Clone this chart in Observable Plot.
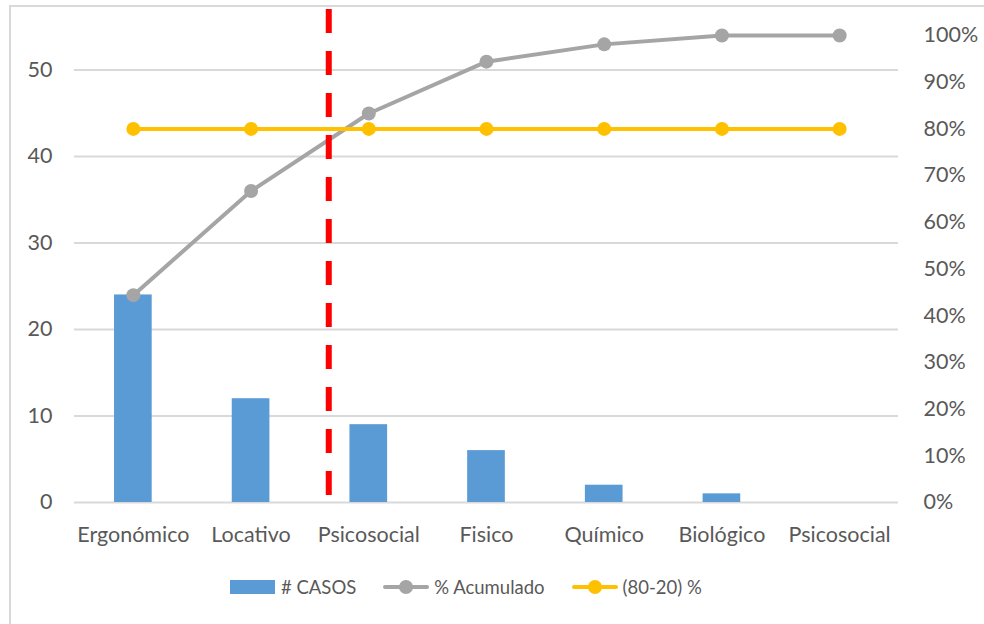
<!DOCTYPE html>
<html>
<head>
<meta charset="utf-8">
<script src="https://cdn.jsdelivr.net/npm/d3@7"></script>
<script src="https://cdn.jsdelivr.net/npm/@observablehq/plot@0.6"></script>
<style>
  html, body { margin: 0; padding: 0; background: #fff; }
  body { width: 984px; height: 624px; overflow: hidden; position: relative; font-family: Lato, "Open Sans", sans-serif; }
  #frame { position: absolute; left: 9px; top: 5px; width: 1100px; height: 700px; border-left: 2px solid #d9d9d9; border-top: 2px solid #d9d9d9; }
  #chart { position: absolute; left: 0; top: 0; }
  #legend { position: absolute; left: 230px; top: 576px; display: flex; align-items: center; font-size: 18.5px; color: #595959; white-space: nowrap; }
  .item { display: flex; align-items: center; margin-right: 27px; }
  .item svg { margin-right: 5px; }
</style>
</head>
<body>
<div id="frame"></div>
<div id="chart"></div>
<div id="legend"></div>
<script>
// Factores de riesgo (Pareto)
const categorias = ["Ergonómico", "Locativo", "Psicosocial", "Fisico", "Químico", "Biológico", "Psicosocial"];
const casos = [24, 12, 9, 6, 2, 1, 0];
const acumulado = [44.4, 66.7, 83.3, 94.4, 98.1, 100, 100];
const umbral = [80, 80, 80, 80, 80, 80, 80];
const ticksCasos = [0, 10, 20, 30, 40, 50];
const ticksPct = [0, 10, 20, 30, 40, 50, 60, 70, 80, 90, 100];
const totalCasos = 54;            // 100% on the right axis
const corte = [{x: 1.66, y1: 0.8, y2: 57.2}]; // dashed 80/20 cut

const azul = "#5B9BD5", gris = "#A5A5A5", amarillo = "#FFC000", rojo = "#FF0000";

const filas = categorias.map((c, i) => ({
  i, categoria: c, casos: casos[i],
  acum: acumulado[i] * totalCasos / 100,
  umbral: umbral[i] * totalCasos / 100
}));

const chart = Plot.plot({
  width: 984,
  height: 560,
  marginLeft: 74,
  marginRight: 86,
  marginTop: 35,
  marginBottom: 58,
  style: {fontFamily: "Lato, 'Open Sans', sans-serif", fontSize: "21.5px", color: "#595959", overflow: "visible", background: "transparent"},
  x: {type: "linear", domain: [-0.5, 6.5]},
  y: {domain: [0, totalCasos]},
  marks: [
    Plot.gridY(ticksCasos, {stroke: "#d9d9d9", strokeOpacity: 1, strokeWidth: 2}),
    Plot.axisY(ticksCasos, {anchor: "left", tickSize: 0, tickPadding: 22, label: null}),
    Plot.axisY(ticksPct.map(p => p * totalCasos / 100), {
      anchor: "right", tickSize: 0, tickPadding: 25, label: null,
      tickFormat: d => Math.round(d / totalCasos * 100) + "%"
    }),
    Plot.axisX(filas.map(d => d.i), {anchor: "bottom", tickSize: 0, tickPadding: 24, label: null,
      tickFormat: i => categorias[i]}),
    Plot.rectY(filas, {x1: d => d.i - 0.16, x2: d => d.i + 0.16, y: "casos", fill: azul}),
    Plot.line(filas, {x: "i", y: "acum", stroke: gris, strokeWidth: 4}),
    Plot.dot(filas, {x: "i", y: "acum", r: 7, fill: gris}),
    Plot.line(filas, {x: "i", y: "umbral", stroke: amarillo, strokeWidth: 4}),
    Plot.dot(filas, {x: "i", y: "umbral", r: 7, fill: amarillo}),
    Plot.ruleX(corte, {x: "x", y1: "y1", y2: "y2", stroke: rojo, strokeWidth: 6, strokeDasharray: "24 18"})
  ]
});
document.getElementById("chart").appendChild(chart);

// Legend
const leyenda = [
  {nombre: "# CASOS", tipo: "barra", color: azul},
  {nombre: "% Acumulado", tipo: "linea", color: gris},
  {nombre: "(80-20) %", tipo: "linea", color: amarillo}
];
const ns = "http://www.w3.org/2000/svg";
const legendEl = document.getElementById("legend");
for (const l of leyenda) {
  const item = document.createElement("div");
  item.className = "item";
  const sw = document.createElementNS(ns, "svg");
  sw.setAttribute("width", 46);
  sw.setAttribute("height", 16);
  if (l.tipo === "barra") {
    const r = document.createElementNS(ns, "rect");
    r.setAttribute("x", 0); r.setAttribute("y", 1);
    r.setAttribute("width", 45); r.setAttribute("height", 14);
    r.setAttribute("fill", l.color);
    sw.appendChild(r);
  } else {
    const ln = document.createElementNS(ns, "line");
    ln.setAttribute("x1", 2); ln.setAttribute("x2", 44);
    ln.setAttribute("y1", 8); ln.setAttribute("y2", 8);
    ln.setAttribute("stroke", l.color); ln.setAttribute("stroke-width", 4);
    ln.setAttribute("stroke-linecap", "round");
    const c = document.createElementNS(ns, "circle");
    c.setAttribute("cx", 23); c.setAttribute("cy", 8); c.setAttribute("r", 7);
    c.setAttribute("fill", l.color);
    sw.appendChild(ln); sw.appendChild(c);
  }
  const t = document.createElement("span");
  t.textContent = l.nombre;
  item.appendChild(sw);
  item.appendChild(t);
  legendEl.appendChild(item);
}
</script>
</body>
</html>
